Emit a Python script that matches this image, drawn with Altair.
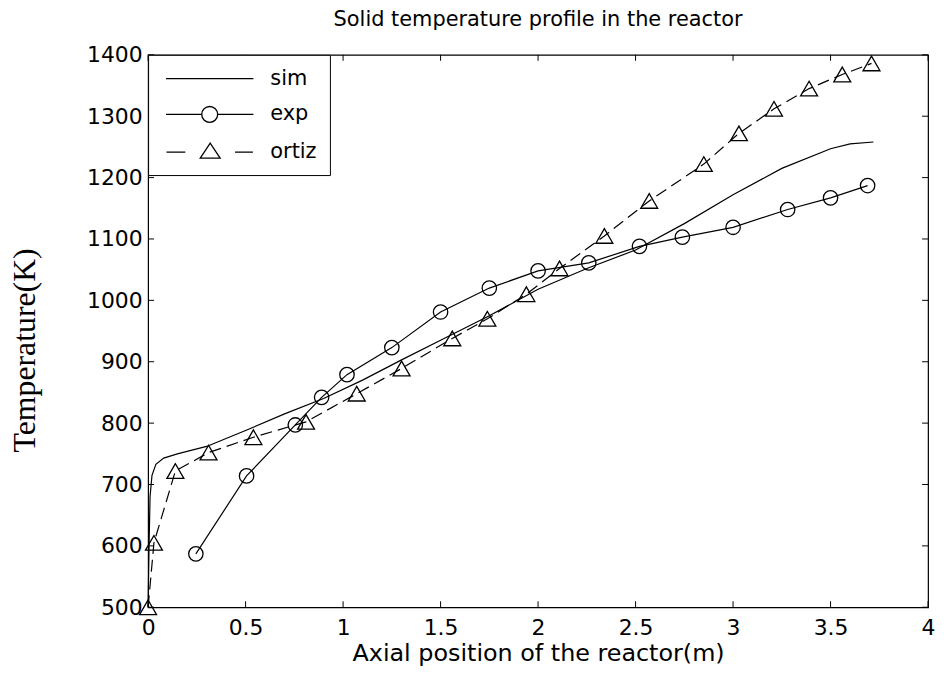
import altair as alt
import pandas as pd

# ---- data ----
series_names = ["sim", "exp", "ortiz"]

sim_x = [0, 0.005, 0.01, 0.02, 0.04, 0.08, 0.15, 0.3, 0.5, 0.7, 0.9, 1.1, 1.3, 1.5,
         1.75, 2.0, 2.25, 2.5, 2.75, 3.0, 3.25, 3.5, 3.6, 3.72]
sim_y = [500, 600, 680, 715, 733, 743, 750, 762, 788, 815, 840, 870, 903, 935,
         975, 1018, 1052, 1082, 1125, 1172, 1215, 1247, 1255, 1258]

exp_x = [0.245, 0.505, 0.755, 0.89, 1.02, 1.25, 1.5, 1.75, 2.0, 2.26, 2.52, 2.74,
         3.0, 3.28, 3.5, 3.69]
exp_y = [587, 714, 797, 842, 879, 923, 981, 1020, 1048, 1061, 1088, 1103,
         1119, 1148, 1167, 1187]

ortiz_x = [0, 0.03, 0.14, 0.31, 0.54, 0.81, 1.07, 1.30, 1.56, 1.74, 1.94, 2.11,
           2.34, 2.57, 2.85, 3.03, 3.21, 3.39, 3.56, 3.71]
ortiz_y = [500, 605, 722, 752, 777, 802, 848, 889, 938, 970, 1010, 1052,
           1105, 1162, 1222, 1272, 1312, 1345, 1368, 1386]

x_ticks = [0, 0.5, 1, 1.5, 2, 2.5, 3, 3.5, 4]
y_ticks = [500, 600, 700, 800, 900, 1000, 1100, 1200, 1300, 1400]

rows = []
for name, xs, ys in [("sim", sim_x, sim_y), ("exp", exp_x, exp_y), ("ortiz", ortiz_x, ortiz_y)]:
    for a, b in zip(xs, ys):
        rows.append({"series": name, "x": a, "y": b})
df = pd.DataFrame(rows)

FONT = "DejaVu Sans"
W, H = 785, 556

xscale = alt.Scale(domain=[0, 4], nice=False, zero=False)
yscale = alt.Scale(domain=[500, 1400], nice=False, zero=False)

x_axis = alt.Axis(values=x_ticks, format="~g", labelFlush=False, labelOverlap=False,
                  labelPadding=10, titlePadding=4,
                  titleFont=FONT, titleFontSize=24, titleFontWeight="normal")
y_axis = alt.Axis(values=y_ticks, format="d", labelFlush=False, labelOverlap=False,
                  labelPadding=6, titlePadding=45, titleY=297,
                  titleFont="Liberation Serif", titleFontSize=32,
                  titleFontWeight="normal")
X_TITLE = "Axial position of the reactor(m)"
Y_TITLE = "Temperature(K)"

x_enc = alt.X("x:Q", scale=xscale, title=X_TITLE, axis=x_axis)
y_enc = alt.Y("y:Q", scale=yscale, title=Y_TITLE, axis=y_axis)

base = alt.Chart(df)

solid_lines = base.transform_filter(alt.datum.series != "ortiz").mark_line(
    color="black", strokeWidth=1.2
).encode(x=x_enc, y=y_enc, detail="series:N")

dashed_line = base.transform_filter(alt.datum.series == "ortiz").mark_line(
    color="black", strokeWidth=1.2, strokeDash=[12, 6]
).encode(x=x_enc, y=y_enc)

circles = base.transform_filter(alt.datum.series == "exp").mark_point(
    shape="circle", filled=False, color="black", size=210, strokeWidth=1.3, opacity=1
).encode(x=x_enc, y=y_enc)

triangles = base.transform_filter(alt.datum.series == "ortiz").mark_point(
    shape="triangle-up", filled=False, color="black", size=290, strokeWidth=1.3, opacity=1
).encode(x=x_enc, y=y_enc)

# legend symbols: line sample + marker as custom paths
legend_paths = [
    "M-4.4,0L4.4,0",
    "M-4.4,0L-0.8,0M0.8,0L4.4,0M0.8,0A0.8,0.8 0 1,1 -0.8,0A0.8,0.8 0 1,1 0.8,0",
    "M-4.35,0L-2.45,0M2.55,0L4.35,0M-0.95,0.6L0.05,-0.9L1.05,0.6Z",
]
legend_carrier = base.mark_point(filled=False, color="black", strokeWidth=1.2, strokeOpacity=0).encode(
    x=x_enc, y=y_enc,
    shape=alt.Shape("series:N",
                    scale=alt.Scale(domain=series_names, range=legend_paths),
                    legend=alt.Legend(title=None, orient="top-left", offset=0, padding=13,
                                      strokeColor="black", fillColor="white",
                                      labelFont=FONT, labelFontSize=21, labelColor="black",
                                      symbolSize=400, symbolOffset=38, labelOffset=50,
                                      rowPadding=15, symbolStrokeWidth=1.3,
                                      symbolStrokeColor="black", symbolFillColor="transparent",
                                      symbolOpacity=1)),
)

# inward ticks on all four sides
xt = alt.Chart(pd.DataFrame({"x": x_ticks}))
yt = alt.Chart(pd.DataFrame({"y": y_ticks}))
tick_b = xt.mark_rule(color="black").encode(x=x_enc, y=alt.value(H), y2=alt.value(H - 6))
tick_t = xt.mark_rule(color="black").encode(x=x_enc, y=alt.value(0), y2=alt.value(6))
tick_l = yt.mark_rule(color="black").encode(y=y_enc, x=alt.value(0), x2=alt.value(6))
tick_r = yt.mark_rule(color="black").encode(y=y_enc, x=alt.value(W), x2=alt.value(W - 6))

chart = alt.layer(solid_lines, dashed_line, circles, triangles, legend_carrier,
                  tick_b, tick_t, tick_l, tick_r).properties(
    width=W, height=H,
    title=alt.Title("Solid temperature profile in the reactor", font=FONT, fontSize=21,
                    fontWeight="normal", color="black", offset=14),
    autosize=alt.AutoSizeParams(type="none"),
    padding={"left": 141, "top": 45, "right": 8, "bottom": 60},
).configure_view(stroke="black", strokeWidth=1.2).configure_axis(
    grid=False, domain=False, ticks=False, labelFont=FONT, labelFontSize=22,
    labelColor="black", titleColor="black"
)

chart.save("out.html", embed_options={"renderer": "svg", "actions": False})
